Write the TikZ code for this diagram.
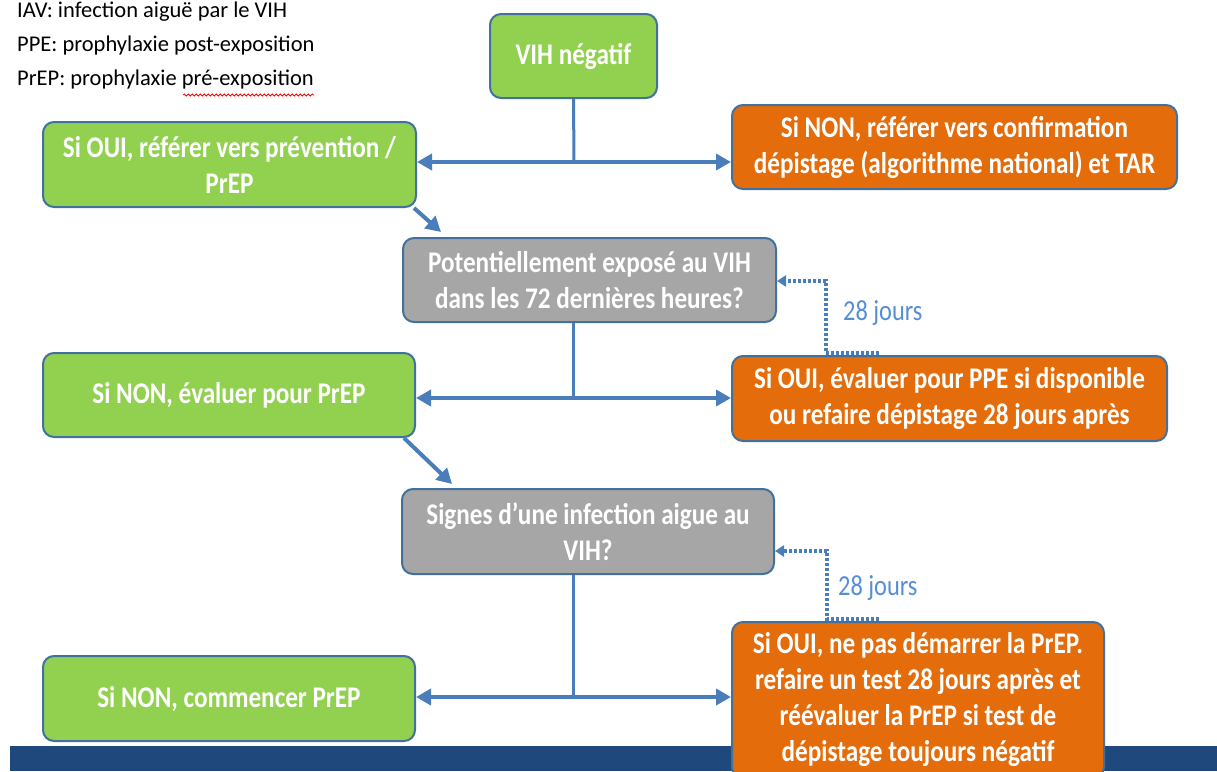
\documentclass[tikz,border=0pt]{standalone}
\usepackage{fontspec}
\setmainfont{Carlito}[FakeStretch=0.84]
\newfontfamily\legendfont{Carlito}
\usetikzlibrary{arrows.meta,decorations.pathmorphing}
\definecolor{boxgreen}{HTML}{92D050}
\definecolor{boxorange}{HTML}{E46C0A}
\definecolor{boxgray}{HTML}{A6A6A6}
\definecolor{boxedge}{HTML}{41719C}
\definecolor{arrowblue}{HTML}{4A7EBB}
\definecolor{bandblue}{HTML}{1F497D}
\definecolor{labelblue}{HTML}{558ED5}
\begin{document}
\begin{tikzpicture}[x=1pt,y=-1pt,
  flowbox/.style={rectangle, rounded corners=11pt, draw=boxedge, line width=2pt,
    text=white, font=\bfseries\fontsize{30}{36}\selectfont, align=center, inner sep=0pt},
  greenbox/.style={flowbox, fill=boxgreen},
  orangebox/.style={flowbox, fill=boxorange},
  graybox/.style={flowbox, fill=boxgray},
  arr/.style={draw=arrowblue, line width=4pt, -{Triangle[length=15pt,width=16pt]}},
  stem/.style={draw=arrowblue, line width=3pt},
  dotarr/.style={draw=arrowblue, line width=3.5pt, dash pattern=on 3pt off 2pt,
    -{Triangle[length=9pt,width=11pt]}},
  legend/.style={anchor=west, inner sep=0pt, font=\legendfont\fontsize{22.5}{26}\selectfont},
  weeks/.style={text=labelblue, font=\fontsize{29}{34}\selectfont, inner sep=0pt}
]
\useasboundingbox (0,0) rectangle (1217,771);
\clip (0,0) rectangle (1217,771);
\fill[white] (0,0) rectangle (1217,771);

% legend
\node[legend] (lg1) at (17,12) {IAV: infection aiguë par le VIH};
\node[legend] (lg2) at (17,46) {PPE: prophylaxie post-exposition};
\node[legend] (lg3) at (17,80) {PrEP: prophylaxie pré-exposition};
\draw[red, line width=0.8pt, decorate, decoration={snake, amplitude=1pt, segment length=4pt}]
  (183,95) -- (314,95);

% bottom band
\fill[bandblue] (10,746) rectangle (1217,771);

% boxes
\node[greenbox, minimum width=167pt, minimum height=84pt] (vih) at (573.5,56) {VIH négatif};
\node[greenbox, minimum width=373pt, minimum height=85pt] (oui1) at (229.5,164.5)
  {Si OUI, référer vers prévention /\\PrEP};
\node[orangebox, minimum width=445pt, minimum height=84pt] (non1) at (954.5,147)
  {Si NON, référer vers confirmation\\dépistage (algorithme national) et TAR};
\node[graybox, minimum width=373pt, minimum height=84pt] (q1) at (589.5,280)
  {Potentiellement exposé au VIH\\dans les 72 dernières heures?};
\node[greenbox, minimum width=372pt, minimum height=84pt] (non2) at (229,395)
  {Si NON, évaluer pour PrEP};
\node[orangebox, minimum width=435pt, minimum height=85pt] (oui2) at (949.5,398.5)
  {Si OUI, évaluer pour PPE si disponible\\ou refaire dépistage 28 jours après};
\node[graybox, minimum width=372pt, minimum height=85pt] (q2) at (588,531.5)
  {Signes d’une infection aigue au\\VIH?};
\node[greenbox, minimum width=372pt, minimum height=85pt] (non3) at (229,698.5)
  {Si NON, commencer PrEP};
\node[orangebox, minimum width=372pt, minimum height=156pt] (oui3) at (918,700)
  {Si OUI, ne pas démarrer la PrEP.\\refaire un test 28 jours après et\\réévaluer la PrEP si test de\\dépistage toujours négatif};

% junctions
\coordinate (j1) at (574,162);
\coordinate (j2) at (573,398);
\coordinate (j3) at (573,697);

\draw[stem] (vih.south) -- (j1);
\draw[arr] (j1) -- (j1 -| oui1.east);
\draw[arr] (j1) -- (j1 -| non1.west);

\draw[arr] ([xshift=-3pt]oui1.south east) -- ([xshift=39pt,yshift=5pt]q1.north west);

\draw[stem] (q1.south -| j2) -- (j2);
\draw[arr] (j2) -- (j2 -| non2.east);
\draw[arr] (j2) -- (j2 -| oui2.west);

\draw[arr] ([xshift=-12pt]non2.south east) -- ([xshift=51pt,yshift=4pt]q2.north west);

\draw[stem] (q2.south -| j3) -- (j3);
\draw[arr] (j3) -- (j3 -| non3.east);
\draw[arr] (j3) -- (j3 -| oui3.west);

% dotted return arrows
\coordinate (d1a) at ([xshift=148pt,yshift=2pt]oui2.north west);
\coordinate (d1b) at ([xshift=95pt,yshift=2pt]oui2.north west);
\draw[dotarr] (d1a) -- (d1b) |- ([yshift=-1pt]q1.east);
\node[weeks, anchor=west] (w1) at (843,313) {28 jours};

\coordinate (d2a) at ([xshift=148pt,yshift=2pt]oui3.north west);
\coordinate (d2b) at ([xshift=96pt,yshift=2pt]oui3.north west);
\draw[dotarr] (d2a) -- (d2b) |- ([yshift=-19.5pt]q2.east);
\node[weeks, anchor=west] (w2) at (838,588) {28 jours};
\end{tikzpicture}
\end{document}
